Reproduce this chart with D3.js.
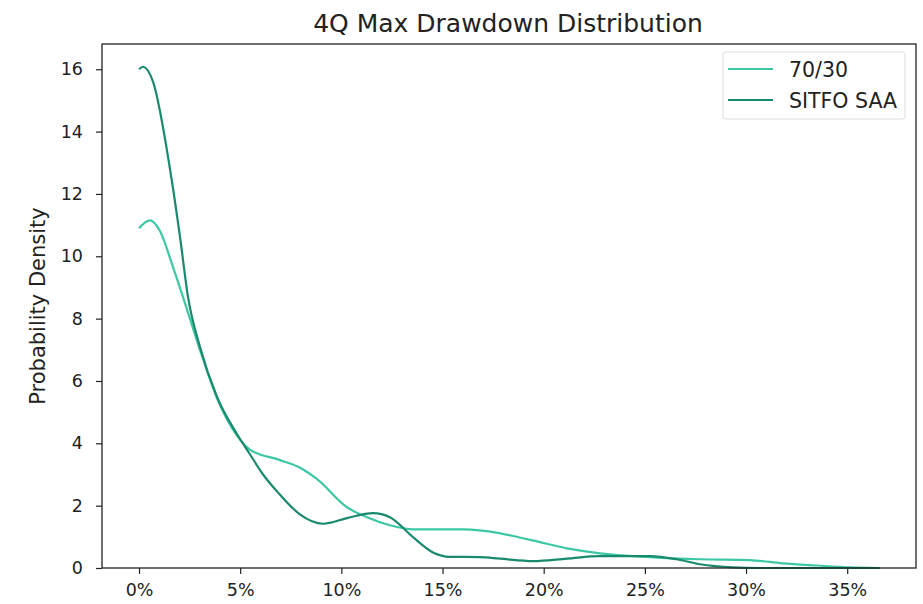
<!DOCTYPE html>
<html><head><meta charset="utf-8">
<script src="https://cdn.jsdelivr.net/npm/d3@7"></script>
<style>body{margin:0;background:#fff;} text{font-family:"DejaVu Sans",sans-serif;fill:#222;}</style>
</head><body><svg id="c" width="923" height="604"></svg>
<script>
const title = "4Q Max Drawdown Distribution";
const yLabel = "Probability Density";
const seriesNames = ["70/30", "SITFO SAA"];
const xTicks = [0, 5, 10, 15, 20, 25, 30, 35];
const yTicks = [0, 2, 4, 6, 8, 10, 12, 14, 16];
// drawdown (%) and density
const x7030 = [0, 0.54, 1.04, 1.68, 2.17, 3.01, 3.85, 4.84, 5.48, 6.97, 8.0, 8.8, 10.28, 11.27, 12.4, 13.54, 16.0, 17.8, 18.8, 19.5, 21.15, 22.78, 25.25, 27.72, 30.19, 31.82, 33.5, 35.13, 36.6];
const y7030 = [10.9, 11.15, 10.8, 9.65, 8.7, 7.0, 5.45, 4.25, 3.8, 3.46, 3.2, 2.85, 1.95, 1.63, 1.37, 1.24, 1.24, 1.12, 0.98, 0.88, 0.63, 0.47, 0.35, 0.28, 0.25, 0.15, 0.08, 0.02, 0.0];
const xSaa = [0, 0.2, 0.69, 1.53, 2.03, 2.42, 3.01, 3.85, 4.84, 5.48, 6.13, 6.97, 7.95, 9.09, 10.28, 11.56, 12.4, 13.54, 14.53, 15.37, 16.85, 17.84, 19.47, 21.15, 22.78, 25.25, 26.58, 27.72, 29.35, 30.68, 33.5, 36.6];
const ySaa = [16.0, 16.08, 15.6, 12.8, 10.6, 8.7, 7.1, 5.5, 4.3, 3.65, 3.0, 2.35, 1.72, 1.42, 1.6, 1.76, 1.63, 0.99, 0.5, 0.36, 0.35, 0.3, 0.22, 0.3, 0.38, 0.38, 0.28, 0.12, 0.02, 0.0, 0.0, 0.0];
const colors = ["#3cc8a5", "#1a8a6e"];

const svg = d3.select("#c");
const L = 102, R = 916, T = 44, B = 568;
const x = d3.scaleLinear().domain([-1.83, 38.4]).range([L, R]);
const y = d3.scaleLinear().domain([0, 16.81]).range([B, T]);

svg.append("text").attr("x", 508).attr("y", 32).attr("text-anchor", "middle")
  .style("font-size", "25px").text(title);

const xa = svg.append("g").attr("transform", `translate(0,${B})`)
  .call(d3.axisBottom(x).tickValues(xTicks).tickFormat(d => d + "%").tickSize(6).tickPadding(10));
const ya = svg.append("g").attr("transform", `translate(${L},0)`)
  .call(d3.axisLeft(y).tickValues(yTicks).tickSize(6).tickPadding(13));
[xa, ya].forEach(g => {
  g.select(".domain").remove();
  g.selectAll("line").attr("stroke", "#222").attr("stroke-width", 1.2);
  g.selectAll("text").style("font-size", "17.5px").style("font-family", "DejaVu Sans").attr("fill", "#222");
});

svg.append("text").attr("transform", `translate(45,306) rotate(-90)`)
  .attr("text-anchor", "middle").style("font-size", "21px").text(yLabel);

const line = d3.line().x(d => x(d[0])).y(d => y(d[1])).curve(d3.curveMonotoneX);
const data = [d3.zip(x7030, y7030), d3.zip(xSaa, ySaa)];
data.forEach((d, i) => {
  svg.append("path").datum(d).attr("d", line).attr("fill", "none")
    .attr("stroke", colors[i]).attr("stroke-width", 2.2);
});

svg.append("rect").attr("x", L).attr("y", T).attr("width", R - L).attr("height", B - T)
  .attr("fill", "none").attr("stroke", "#222").attr("stroke-width", 1.3);

// legend
const lg = svg.append("g");
lg.append("rect").attr("x", 723).attr("y", 52).attr("width", 182).attr("height", 67)
  .attr("rx", 3).attr("fill", "#fff").attr("stroke", "#ddd");
seriesNames.forEach((n, i) => {
  const yy = 69 + i * 31;
  lg.append("line").attr("x1", 728).attr("x2", 773).attr("y1", yy).attr("y2", yy)
    .attr("stroke", colors[i]).attr("stroke-width", 2.2);
  lg.append("text").attr("x", 789).attr("y", yy + 8).style("font-size", "20.5px").text(n);
});
</script></body></html>
